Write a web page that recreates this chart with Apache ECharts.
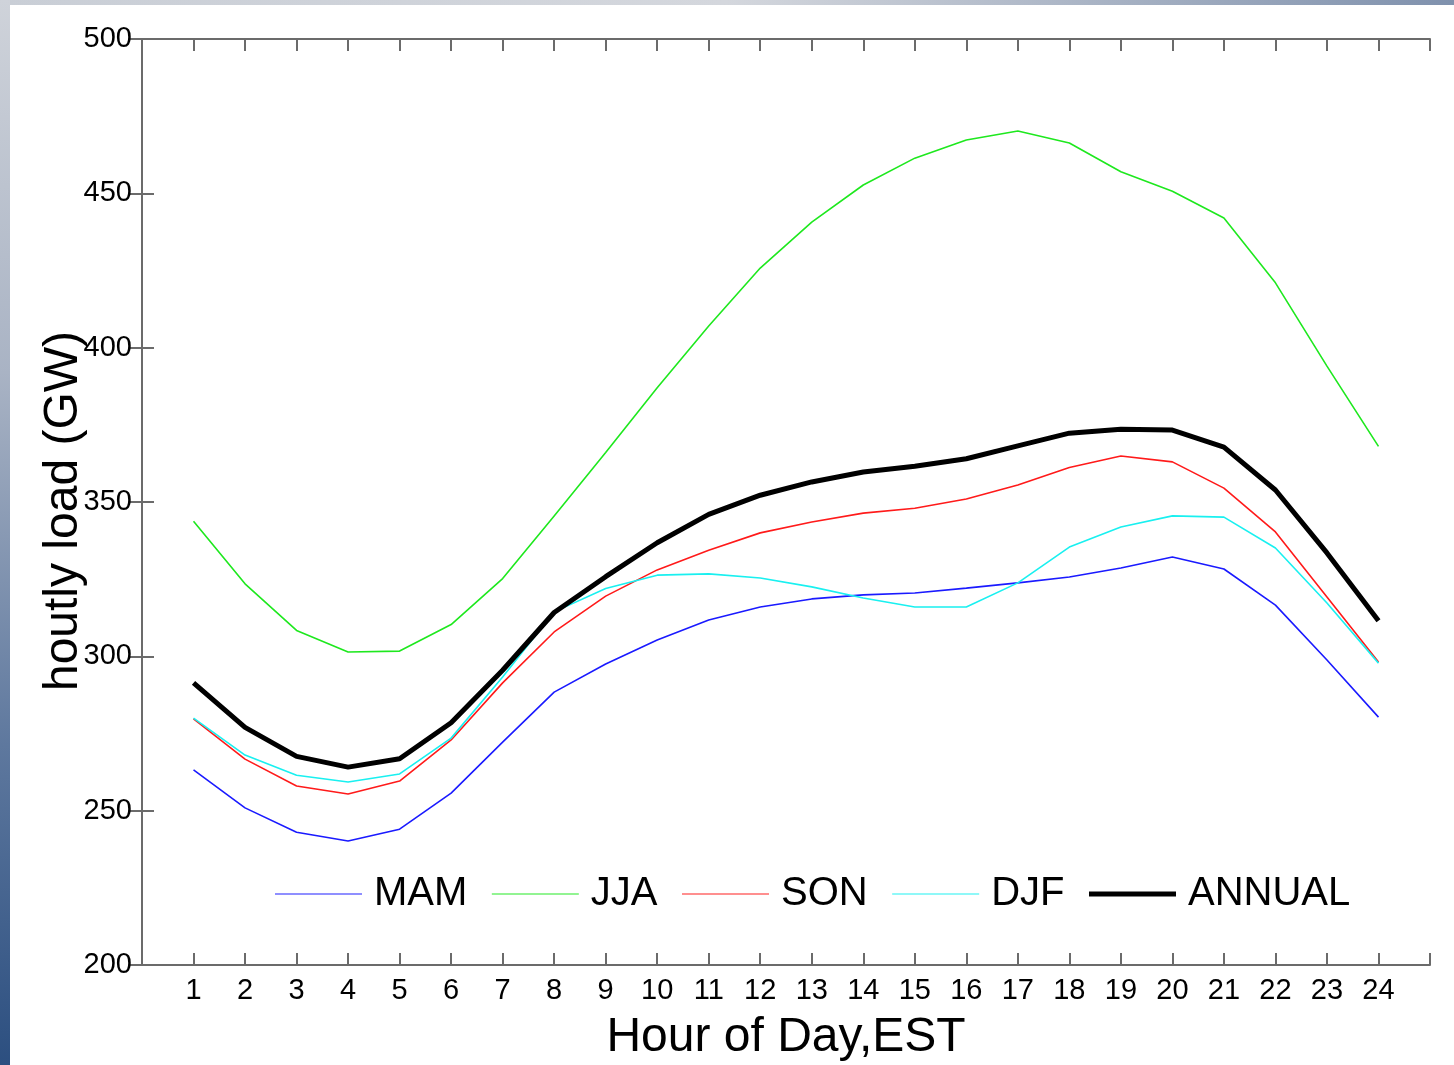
<!DOCTYPE html>
<html>
<head>
<meta charset="utf-8">
<script src="https://cdn.jsdelivr.net/npm/echarts@6/dist/echarts.min.js"></script>
<style>
html,body{margin:0;padding:0;background:#fff;}
#chart{width:1454px;height:1065px;}
</style>
</head>
<body>
<div id="chart"></div>
<script>
const hours = [1,2,3,4,5,6,7,8,9,10,11,12,13,14,15,16,17,18,19,20,21,22,23,24];
const yTicks = [200,250,300,350,400,450,500];
const seriesNames = ['MAM','JJA','SON','DJF','ANNUAL'];
const mam = [263.2,250.9,243.0,240.2,244.0,255.7,272.2,288.4,297.5,305.3,311.8,316.0,318.6,319.9,320.5,322.1,323.8,325.7,328.6,332.2,328.3,316.6,298.8,280.3];
const jja = [343.8,323.5,308.4,301.4,301.7,310.3,325.2,345.5,366.0,387.0,407.0,425.8,440.7,452.7,461.4,467.3,470.2,466.3,457.0,450.7,442.0,421.0,394.0,368.0];
const son = [279.7,266.7,258.0,255.4,259.6,272.9,291.4,307.9,319.5,328.0,334.4,340.0,343.5,346.4,348.0,351.0,355.5,361.2,364.9,363.0,354.5,340.3,319.2,298.2];
const djf = [280.0,268.0,261.5,259.3,261.9,273.5,293.3,314.4,322.0,326.3,326.7,325.4,322.5,318.9,316.0,316.0,323.8,335.4,341.9,345.5,345.1,335.1,317.3,297.8];
const annual = [291.4,277.0,267.6,264.1,266.8,278.5,295.5,314.2,325.8,336.8,346.0,352.2,356.5,359.7,361.6,364.0,368.2,372.3,373.6,373.3,367.8,353.9,333.5,311.5];

const colors = ['#1a1aff','#1ee81e','#ff1a1a','#19f0f0','#000000'];
const widths = [1.6,1.6,1.6,1.6,5];
const dataSets = [mam,jja,son,djf,annual];

const chart = echarts.init(document.getElementById('chart'), null, {renderer:'canvas'});
const FONT = 'Liberation Sans, Arial, sans-serif';
const axisLineStyle = {color:'#6b6b6b', width:2};

const series = seriesNames.map((n,i)=>({
  name:n, type:'line', symbol:'none', showSymbol:false,
  data: hours.map((h,j)=>[h, dataSets[i][j]]),
  lineStyle:{color:colors[i], width:widths[i]},
  itemStyle:{color:colors[i]},
  z: i===4 ? 3 : 2
}));

const legendData = seriesNames.map((n,i)=>({
  name:n,
  icon: i===4 ? 'path://M0,0H87V5H0Z' : 'path://M0,0H87V1.6H0Z',
  itemStyle:{color: i===4 ? '#000' : colors[i], opacity: i===4 ? 1 : 0.65, borderWidth:0}
}));

chart.setOption({
  animation:false,
  backgroundColor:'#ffffff',
  graphic:[
    {type:'rect', shape:{x:0,y:0,width:1454,height:5}, style:{fill:new echarts.graphic.LinearGradient(0,0,1,0,[{offset:0,color:'#c9ced6'},{offset:0.5,color:'#d4d7dd'},{offset:1,color:'#7f91ad'}])}, silent:true},
    {type:'rect', shape:{x:0,y:0,width:10,height:1065}, style:{fill:new echarts.graphic.LinearGradient(0,0,0,1,[{offset:0,color:'#cfd3da'},{offset:0.35,color:'#a9b3c4'},{offset:0.7,color:'#5e789e'},{offset:1,color:'#2c4f80'}])}, silent:true}
  ],
  grid:{left:142, top:39, right:24, bottom:100, containLabel:false, outerBoundsMode:'none'},
  legend:{
    show:true, data:legendData, left:270, top:869,
    itemWidth:87, itemHeight:14, itemGap:24.5,
    textStyle:{fontFamily:FONT, fontSize:40, color:'#000', padding:[0,0,0,7]}
  },
  xAxis:[
    {type:'value', min:0, max:25, interval:1, position:'bottom',
     axisLine:{show:true, lineStyle:axisLineStyle},
     axisTick:{show:true, inside:true, length:12, lineStyle:axisLineStyle},
     axisLabel:{fontFamily:FONT, fontSize:29, color:'#000', margin:11,
       formatter:v=> (hours.indexOf(v)>=0 ? String(v) : '')},
     splitLine:{show:false},
     name:'Hour of Day,EST', nameLocation:'middle', nameGap:49, nameMoveOverlap:false,
     nameTextStyle:{fontFamily:FONT, fontSize:48, color:'#000'}},
    {type:'value', min:0, max:25, interval:1, position:'top',
     axisLine:{show:true, lineStyle:axisLineStyle},
     axisTick:{show:true, inside:true, length:12, lineStyle:axisLineStyle},
     axisLabel:{show:false}, splitLine:{show:false}}
  ],
  yAxis:[
    {type:'value', min:200, max:500, interval:50, position:'left',
     axisLine:{show:true, lineStyle:axisLineStyle},
     axisTick:{show:true, inside:true, length:12, lineStyle:axisLineStyle},
     axisLabel:{fontFamily:FONT, fontSize:29, color:'#000', margin:10,
       formatter:v=> (yTicks.indexOf(v)>=0 ? String(v) : '')},
     splitLine:{show:false},
     name:'houtly load (GW)', nameLocation:'middle', nameGap:54, nameRotate:90, nameMoveOverlap:false,
     nameTextStyle:{fontFamily:FONT, fontSize:48, color:'#000', padding:[0,18,0,0]}},
    {type:'value', min:200, max:500, interval:50, position:'right',
     axisLine:{show:true, lineStyle:axisLineStyle},
     axisTick:{show:true, inside:true, length:12, lineStyle:axisLineStyle},
     axisLabel:{show:false}, splitLine:{show:false}}
  ],
  series: series
});
</script>
</body>
</html>
